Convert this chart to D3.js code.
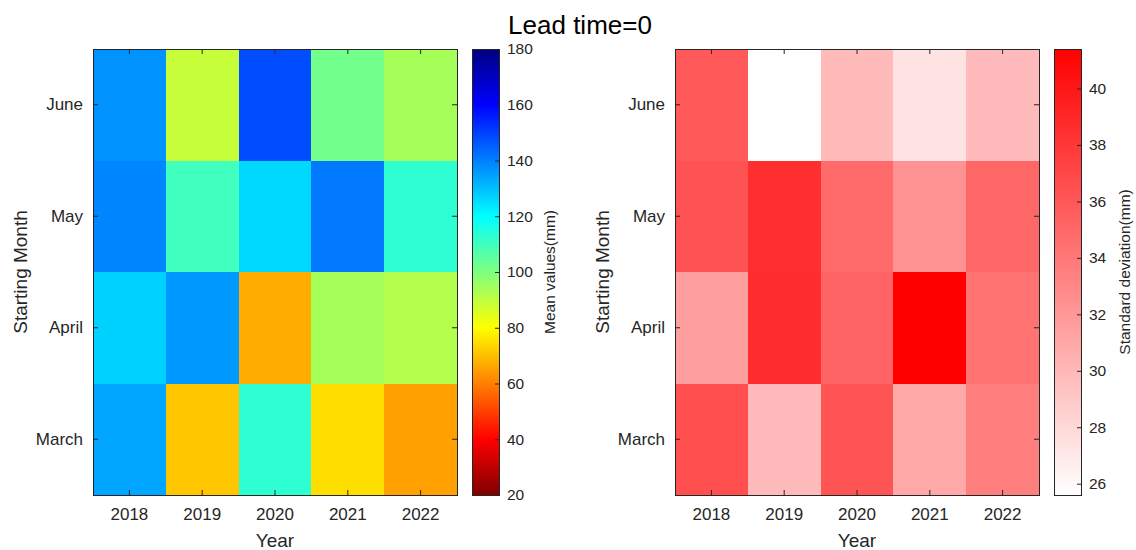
<!DOCTYPE html>
<html>
<head>
<meta charset="utf-8">
<script src="https://cdn.jsdelivr.net/npm/d3@7"></script>
<style>
  body { margin: 0; background: #fff; }
  svg text { font-family: "Liberation Sans", Arial, sans-serif; fill: #262626; }
</style>
</head>
<body>
<div id="chart"></div>
<script>
// data
const years = ["2018", "2019", "2020", "2021", "2022"];
const months = ["June", "May", "April", "March"];   // top to bottom

const meanJune  = [137, 89, 148, 102, 94];
const meanMay   = [139, 110, 126, 141, 113];
const meanApril = [127, 136, 67, 94, 92];
const meanMarch = [134, 71, 113, 75, 65];

const sdJune  = [35.9, 25.6, 29.9, 27.4, 29.8];
const sdMay   = [36.3, 38.5, 34.8, 32.3, 35.0];
const sdApril = [31.6, 38.6, 35.2, 41.4, 34.3];
const sdMarch = [36.5, 29.8, 36.2, 30.9, 33.6];

const meanTicks = [20, 40, 60, 80, 100, 120, 140, 160, 180];
const sdTicks = [26, 28, 30, 32, 34, 36, 38, 40];

const meanRows = { June: meanJune, May: meanMay, April: meanApril, March: meanMarch };
const sdRows = { June: sdJune, May: sdMay, April: sdApril, March: sdMarch };

function toCells(rows) {
    let cells = [];
    months.forEach(m => rows[m].forEach((v, i) => cells.push({ month: m, year: years[i], value: v })));
    return cells;
}

// matlab style jet, reversed (high values = dark blue)
function jet(t) {
    const c = x => Math.max(0, Math.min(1, x));
    return d3.rgb(255 * c(1.5 - Math.abs(4 * t - 3)),
                  255 * c(1.5 - Math.abs(4 * t - 2)),
                  255 * c(1.5 - Math.abs(4 * t - 1))).formatHex();
}
const meanT = d3.scaleLinear().domain([180, 20]).range([0, 1]);
const meanColor = v => jet(meanT(v));

const sdAll = [].concat(sdJune, sdMay, sdApril, sdMarch);
const sdDomain = [d3.min(sdAll), d3.max(sdAll)];
const sdColor = d3.scaleLinear().domain(sdDomain).range(["#ffffff", "#ff0000"]).interpolate(d3.interpolateRgb);

const W = 1136, H = 550;
const svg = d3.select("#chart").append("svg").attr("width", W).attr("height", H);

svg.append("text")
    .attr("x", 580).attr("y", 34)
    .attr("text-anchor", "middle")
    .style("font-size", "26px").style("fill", "#000")
    .text("Lead time=0");

const plotTop = 49, plotH = 446, plotW = 364;
const axisColor = "#262626";

function drawPanel(left, cells, colorFn, cbLeft, cbDomain, cbTicks, cbFn, cbLabel, cbLabelX, ylabX, gid) {
    const g = svg.append("g").attr("transform", "translate(" + left + "," + plotTop + ")");

    let xScale = d3.scaleBand().domain(years).range([0, plotW]).padding(0);
    let yScale = d3.scaleBand().domain(months).range([0, plotH]).padding(0);

    g.append("g")
        .selectAll("rect")
        .data(cells)
        .join("rect")
        .attr("x", d => xScale(d.year))
        .attr("y", d => yScale(d.month))
        .attr("width", xScale.bandwidth() + 0.5)
        .attr("height", yScale.bandwidth() + 0.5)
        .attr("fill", d => colorFn(d.value))
        .attr("shape-rendering", "crispEdges");

    let xAxis = g.append("g").attr("transform", "translate(0," + plotH + ")")
        .call(d3.axisBottom(xScale).tickSize(-5).tickPadding(13));
    let yAxis = g.append("g")
        .call(d3.axisLeft(yScale).tickSize(-5).tickPadding(10));
    let tAxis = g.append("g")
        .call(d3.axisTop(xScale).tickSize(-5).tickFormat(""));
    let rAxis = g.append("g").attr("transform", "translate(" + plotW + ",0)")
        .call(d3.axisRight(yScale).tickSize(-5).tickFormat(""));
    [xAxis, yAxis, tAxis, rAxis].forEach(a => {
        a.select(".domain").remove();
        a.selectAll("line").attr("stroke", axisColor);
        a.selectAll("text").style("font-size", "17px").attr("fill", axisColor);
    });

    g.append("rect")
        .attr("x", 0).attr("y", 0).attr("width", plotW).attr("height", plotH)
        .attr("fill", "none").attr("stroke", axisColor).attr("stroke-width", 1)
        .attr("shape-rendering", "crispEdges");

    g.append("text")
        .attr("x", plotW / 2).attr("y", plotH + 52)
        .attr("text-anchor", "middle")
        .style("font-size", "19px")
        .text("Year");
    g.append("text")
        .attr("transform", "translate(" + (ylabX - left) + "," + (plotH / 2) + ") rotate(-90)")
        .attr("text-anchor", "middle")
        .style("font-size", "19px")
        .text("Starting Month");

    // colorbar
    const cbW = 27;
    const defs = svg.append("defs");
    const grad = defs.append("linearGradient").attr("id", gid)
        .attr("x1", 0).attr("y1", 1).attr("x2", 0).attr("y2", 0);
    d3.range(0, 1.0001, 1 / 64).forEach(t => {
        const v = cbDomain[0] + t * (cbDomain[1] - cbDomain[0]);
        grad.append("stop").attr("offset", t).attr("stop-color", cbFn(v));
    });
    const cb = svg.append("g").attr("transform", "translate(" + cbLeft + "," + plotTop + ")");
    cb.append("rect").attr("width", cbW).attr("height", plotH)
        .attr("fill", "url(#" + gid + ")");
    let cbScale = d3.scaleLinear().domain(cbDomain).range([plotH, 0]);
    let cbAxis = cb.append("g").attr("transform", "translate(" + cbW + ",0)")
        .call(d3.axisRight(cbScale).tickValues(cbTicks).tickSize(-4).tickPadding(8));
    cbAxis.select(".domain").remove();
    cbAxis.selectAll("line").attr("stroke", axisColor);
    cbAxis.selectAll("text").style("font-size", "15.5px").attr("fill", axisColor);
    cb.append("rect").attr("width", cbW).attr("height", plotH)
        .attr("fill", "none").attr("stroke", axisColor).attr("stroke-width", 1)
        .attr("shape-rendering", "crispEdges");
    svg.append("text")
        .attr("transform", "translate(" + cbLabelX + "," + (plotTop + plotH / 2) + ") rotate(-90)")
        .attr("text-anchor", "middle")
        .style("font-size", "15.5px")
        .text(cbLabel);
}

drawPanel(93, toCells(meanRows), meanColor, 472, [20, 180], meanTicks, meanColor,
    "Mean values(mm)", 555, 27, "gradMean");
drawPanel(675, toCells(sdRows), sdColor, 1054, sdDomain, sdTicks, sdColor,
    "Standard deviation(mm)", 1130, 609, "gradSd");
</script>
</body>
</html>
